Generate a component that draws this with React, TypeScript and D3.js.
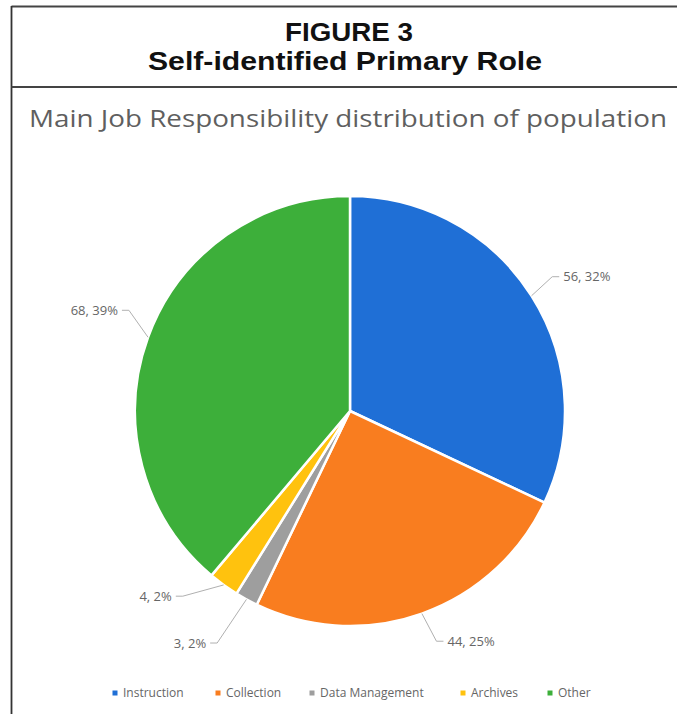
import React from "react";
import * as d3 from "d3";

const categories = ["Instruction", "Collection", "Data Management", "Archives", "Other"];
const values = [56, 44, 3, 4, 68];
const percentLabels = ["32%", "25%", "2%", "2%", "39%"];
const colors = ["#1F6FD6", "#F97D1F", "#9E9E9E", "#FFC20E", "#3DAF3A"];

// label placement (style): radius and angular nudge (degrees) per slice
const labelRadius = [252, 250, 273, 257, 253];
const labelNudge = [0.2, -3.4, 3.0, 7.9, 3.4];

const W = 677;
const H = 714;
const cx = 350;
const cy = 411;
const R = 215;

export default function App() {
  const pie = d3
    .pie<number>()
    .sort(null)
    .value((d) => d)
    .startAngle(0)
    .endAngle(2 * Math.PI);
  const arcs = pie(values);
  const arcGen = d3.arc<d3.PieArcDatum<number>>().innerRadius(0).outerRadius(R);

  const pt = (ang: number, r: number) => [r * Math.sin(ang), -r * Math.cos(ang)];

  const legendX = [115, 218, 312, 463, 550];

  return (
    <svg
      width={W}
      height={H}
      style={{ position: "absolute", left: 0, top: 0, background: "#fff" }}
      fontFamily="'Open Sans', sans-serif"
    >
      <rect x={0} y={0} width={W} height={H} fill="#fff" />
      {/* frame */}
      <line x1={11.5} y1={6.5} x2={W} y2={6.5} stroke="#444" strokeWidth={1.8} />
      <line x1={11.5} y1={6} x2={11.5} y2={H} stroke="#333" strokeWidth={1.8} />
      <line x1={11.5} y1={87} x2={W} y2={87} stroke="#444" strokeWidth={1.8} />

      <text
        x={349}
        y={41}
        textAnchor="middle"
        fontFamily="'Liberation Sans', Arial, sans-serif"
        fontWeight={700}
        fontSize={26}
        fill="#111"
        textLength={128}
        lengthAdjust="spacingAndGlyphs"
      >
        FIGURE 3
      </text>
      <text
        x={345}
        y={70}
        textAnchor="middle"
        fontFamily="'Liberation Sans', Arial, sans-serif"
        fontWeight={700}
        fontSize={26}
        fill="#111"
        textLength={394}
        lengthAdjust="spacingAndGlyphs"
      >
        Self-identified Primary Role
      </text>

      <text
        x={29}
        y={127}
        fontSize={24}
        fill="#5f5f5f"
        textLength={638}
        lengthAdjust="spacingAndGlyphs"
      >
        Main Job Responsibility distribution of population
      </text>

      <g transform={`translate(${cx},${cy})`}>
        {arcs.map((a, i) => (
          <path key={i} d={arcGen(a) || ""} fill={colors[i]} stroke="#fff" strokeWidth={2.5} strokeLinejoin="round" />
        ))}
        {arcs.map((a, i) => {
          const mid = (a.startAngle + a.endAngle) / 2;
          const [ex, ey] = pt(mid, R);
          const la = mid + (labelNudge[i] * Math.PI) / 180;
          const [tx, ty] = pt(la, labelRadius[i]);
          const side = Math.sin(la) >= 0 ? 1 : -1;
          const elbowX = tx - side * 11;
          const tailX = tx - side * 4;
          return (
            <g key={"l" + i}>
              <polyline
                points={`${ex},${ey} ${elbowX},${ty} ${tailX},${ty}`}
                fill="none"
                stroke="#b0b0b0"
                strokeWidth={1}
              />
              <text
                x={tx}
                y={ty}
                dy="0.35em"
                textAnchor={side > 0 ? "start" : "end"}
                fontSize={13}
                fill="#666"
              >
                {`${values[i]}, ${percentLabels[i]}`}
              </text>
            </g>
          );
        })}
      </g>

      {categories.map((c, i) => (
        <g key={"lg" + i}>
          <rect x={legendX[i] - 2.5} y={690.5} width={5} height={5} fill={colors[i]} />
          <text x={legendX[i] + 8} y={693} dy="0.35em" fontSize={12} fill="#666">
            {c}
          </text>
        </g>
      ))}
    </svg>
  );
}
